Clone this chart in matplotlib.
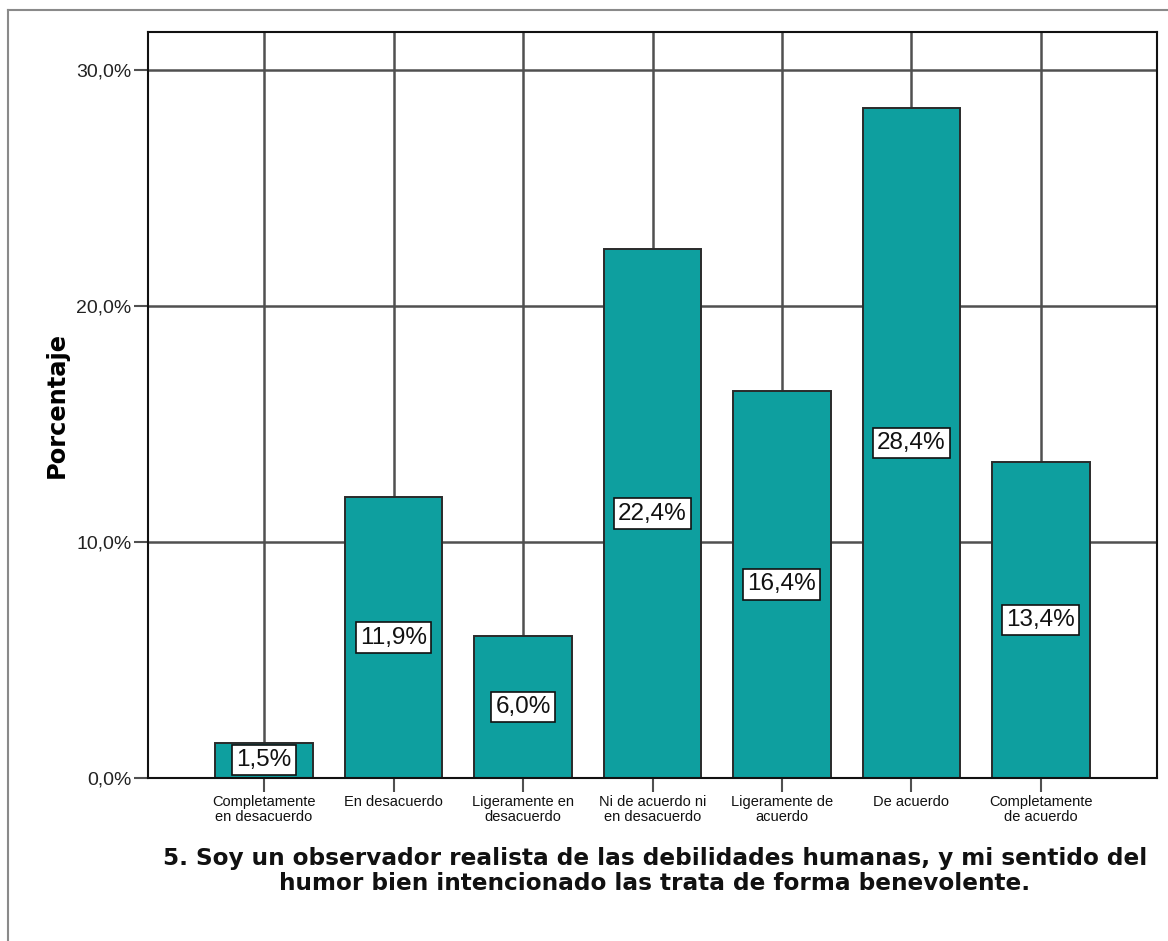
import matplotlib
matplotlib.use('Agg')
import matplotlib.pyplot as plt
from matplotlib.lines import Line2D

# Data
categorias = ['Completamente\nen desacuerdo', 'En desacuerdo', 'Ligeramente en\ndesacuerdo',
              'Ni de acuerdo ni\nen desacuerdo', 'Ligeramente de\nacuerdo', 'De acuerdo',
              'Completamente\nde acuerdo']
porcentajes = [1.5, 11.9, 6.0, 22.4, 16.4, 28.4, 13.4]
yticks = [0, 10, 20, 30]
titulo = ('5. Soy un observador realista de las debilidades humanas, y mi sentido del\n'
          'humor bien intencionado las trata de forma benevolente.')

W, H = 1168, 941
fig = plt.figure(figsize=(W / 100, H / 100), dpi=100)
fig.patch.set_facecolor('white')

# plot area placed like the SPSS output
left, right, top, bottom = 148, 1157, 32, 778
ax = fig.add_axes([left / W, (H - bottom) / H, (right - left) / W, (bottom - top) / H])

x = list(range(len(categorias)))
grid_col = '#505050'

# vertical lines through each category, behind the bars
for xi in x:
    ax.axvline(xi, color=grid_col, lw=1.8, zorder=1)
for yt in yticks[1:]:
    ax.axhline(yt, color=grid_col, lw=1.8, zorder=1)

ax.bar(x, porcentajes, width=0.75, color='#0e9f9f', edgecolor='#2a2a2a', linewidth=1.4, zorder=2)

for xi, v in zip(x, porcentajes):
    ax.text(xi, v / 2, f'{v:.1f}%'.replace('.', ','), ha='center', va='center',
            fontsize=17.5, family='Liberation Sans', color='#111111', zorder=3,
            bbox=dict(boxstyle='square,pad=0.17', facecolor='white', edgecolor='#111111', linewidth=1.2))

ax.set_xlim(-0.896, 6.896)
ax.set_ylim(0, 31.6)
ax.set_yticks(yticks)
ax.set_yticklabels([f'{t:.1f}%'.replace('.', ',') for t in yticks], family='Liberation Sans', fontsize=14,
                   color='#222222')
ax.set_xticks(x)
ax.set_xticklabels(categorias, family='Liberation Sans', fontsize=10.5, color='#111111', linespacing=1.1)
ax.tick_params(axis='y', length=10, width=1.5, color=grid_col, pad=2)
ax.tick_params(axis='x', length=10, width=1.5, color=grid_col, pad=2)

for s in ax.spines.values():
    s.set_color('#111111')
    s.set_linewidth(1.5)

ax.set_ylabel('Porcentaje', family='DejaVu Sans', fontweight='bold', fontsize=17.4, va='center')
ax.yaxis.set_label_coords((57 - left) / (right - left), 0.5)

fig.text(655 / W, (H - 871) / H, titulo, ha='center', va='center', family='DejaVu Sans',
         fontweight='bold', fontsize=16.7, linespacing=1.1, color='#111111')

# outer frame lines (top and left edges of the output box)
fig.add_artist(Line2D([8 / W, 8 / W], [0, 1 - 9.5 / H], color='#8a8a8a', lw=1.5))
fig.add_artist(Line2D([8 / W, 1], [1 - 9.5 / H, 1 - 9.5 / H], color='#8a8a8a', lw=1.5))

fig.savefig('out.png', dpi=100)
